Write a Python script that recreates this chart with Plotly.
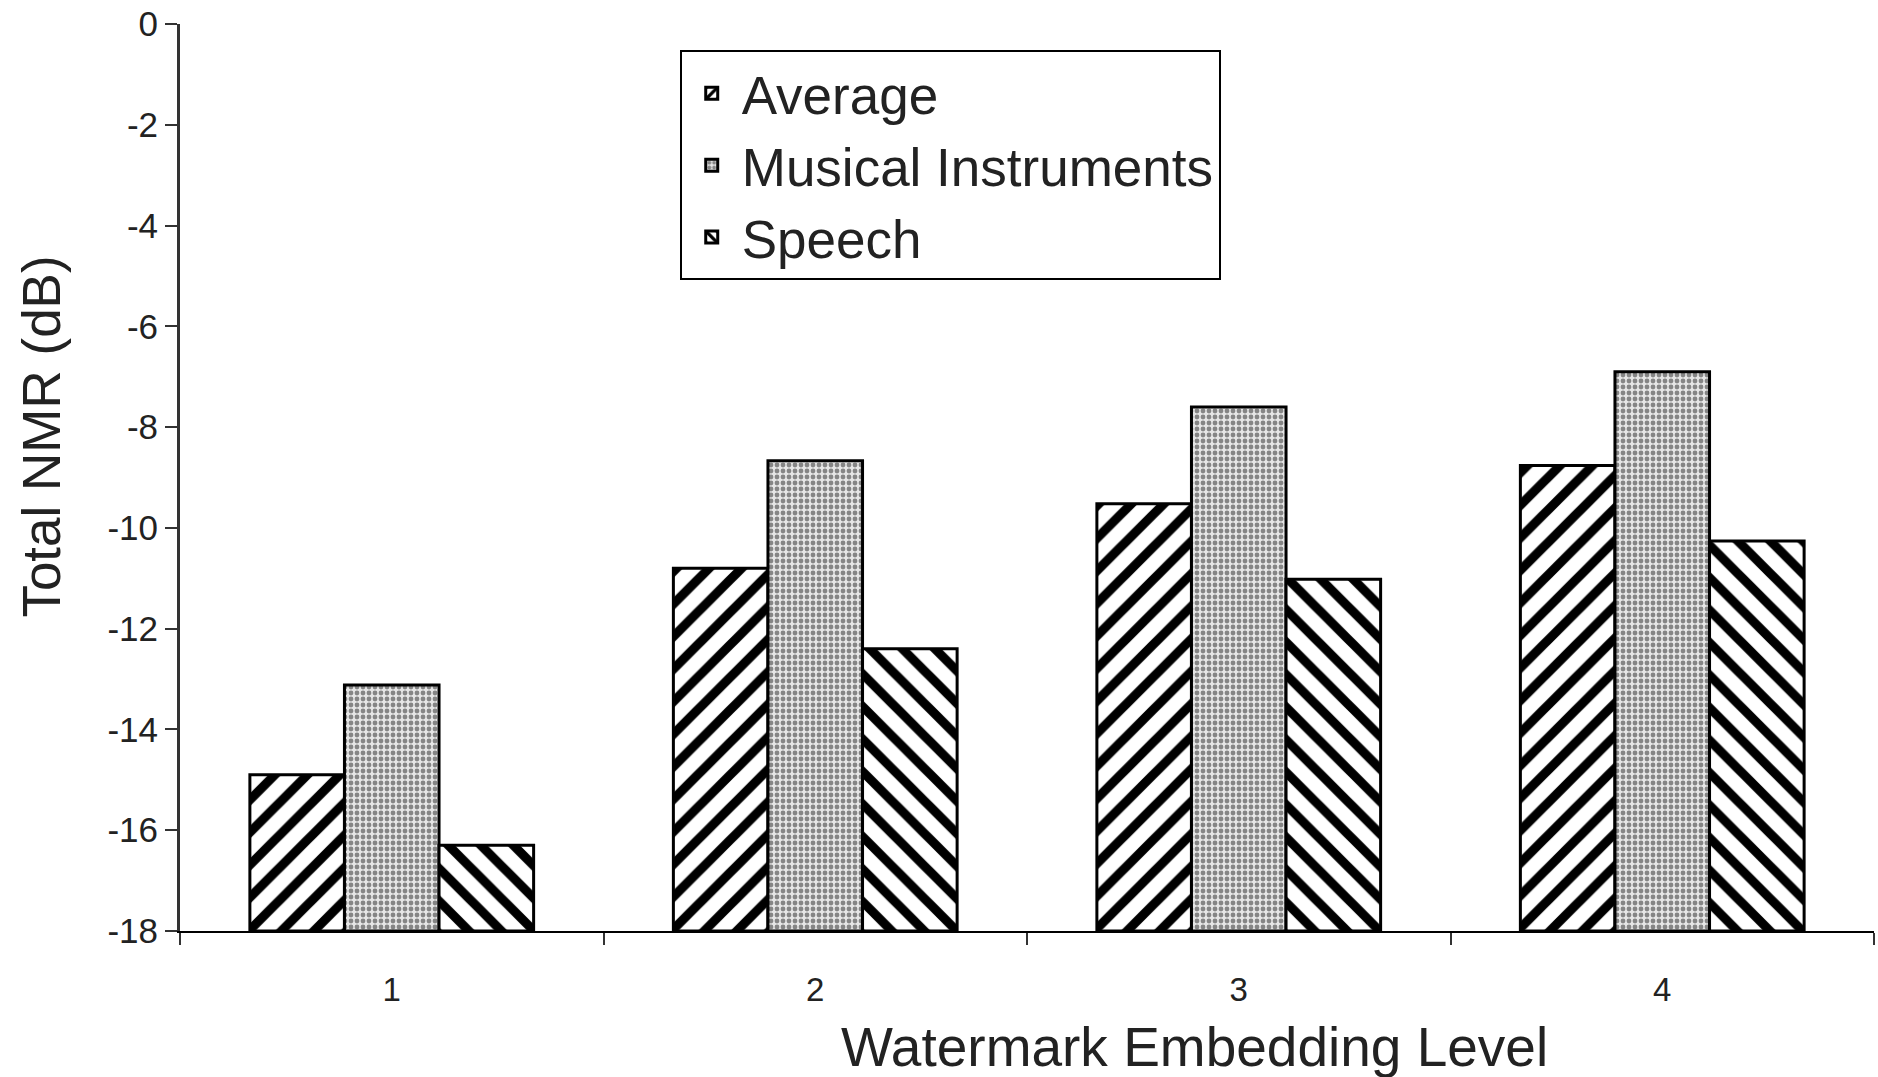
import plotly.graph_objects as go

# Total NMR per watermark embedding level (dB)
levels = ["1", "2", "3", "4"]
average = [-14.9, -10.8, -9.52, -8.76]
musical_instruments = [-13.12, -8.67, -7.6, -6.9]
speech = [-16.3, -12.4, -11.02, -10.26]

y_ticks = [0, -2, -4, -6, -8, -10, -12, -14, -16, -18]
y_tick_labels = ["0", "-2", "-4", "-6", "-8", "-10", "-12", "-14", "-16", "-18"]

Y_FLOOR = -18  # bars rise from the bottom of the axis

FONT = "Liberation Sans, Arial, sans-serif"


def bar(name, values, pattern):
    return go.Bar(
        name=name,
        legendgroup=name,
        x=levels,
        y=[v - Y_FLOOR for v in values],
        base=Y_FLOOR,
        customdata=values,
        hovertemplate="%{customdata} dB<extra>" + name + "</extra>",
        marker=dict(
            color="white",
            line=dict(color="black", width=3),
            pattern=pattern,
        ),
    )


hatch = dict(fgcolor="black", bgcolor="white", fgopacity=1, size=23, solidity=0.4)

fig = go.Figure()
fig.add_trace(bar("Average", average, dict(shape="/", **hatch)))
fig.add_trace(bar("Musical Instruments", musical_instruments,
                  dict(shape=".", fgcolor="#858585", bgcolor="#e6e6e6", fgopacity=1,
                       size=6, solidity=0.5)))
fig.add_trace(bar("Speech", speech, dict(shape="\\", **hatch)))

fig.update_layout(
    width=1878,
    height=1077,
    margin=dict(l=180, r=4, t=24, b=146),
    paper_bgcolor="white",
    plot_bgcolor="white",
    barmode="group",
    bargap=0.33,
    bargroupgap=0,
    font=dict(family=FONT, color="#222"),
    legend=dict(
        x=0.295, y=0.971, xanchor="left", yanchor="top",
        bgcolor="white", bordercolor="black", borderwidth=2,
        font=dict(size=53, family=FONT, color="#222"),
        itemwidth=50,
        tracegroupgap=0,
    ),
    xaxis=dict(
        type="category",
        range=[-0.5, 3.5],
        tickson="boundaries",
        ticks="outside", ticklen=12, tickwidth=2, tickcolor="#333",
        showline=True, linewidth=2, linecolor="black",
        showgrid=False,
        tickfont=dict(size=33, color="#222"),
        ticklabelstandoff=28,
    ),
    yaxis=dict(
        range=[Y_FLOOR, 0],
        tickmode="array",
        tickvals=y_ticks,
        ticktext=y_tick_labels,
        ticks="outside", ticklen=12, tickwidth=2, tickcolor="#333",
        showline=True, linewidth=3, linecolor="#333",
        showgrid=False, zeroline=False,
        tickfont=dict(size=35, color="#222"),
    ),
    annotations=[
        dict(text="Watermark Embedding Level", xref="paper", yref="paper",
             x=0.599, y=-0.128, xanchor="center", yanchor="middle",
             showarrow=False, font=dict(size=55, family=FONT, color="#222")),
        dict(text="Total NMR (dB)", xref="paper", yref="paper",
             x=-0.0815, y=0.545, xanchor="center", yanchor="middle",
             textangle=-90, showarrow=False,
             font=dict(size=53, family=FONT, color="#222")),
    ],
)

fig.write_html("out.html")
